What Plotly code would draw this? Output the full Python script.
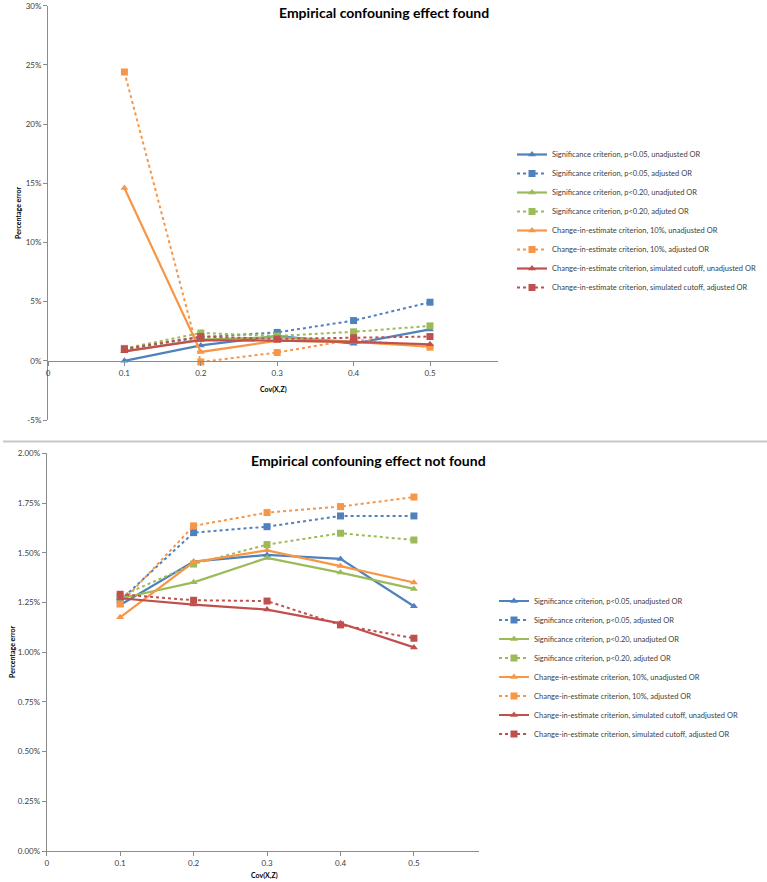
import plotly.graph_objects as go

# ---------------- data ----------------
cov_xz = [0.1, 0.2, 0.3, 0.4, 0.5]

series_names = [
    "Significance criterion, p<0.05, unadjusted OR",
    "Significance criterion, p<0.05, adjusted OR",
    "Significance criterion, p<0.20, unadjuted OR",
    "Significance criterion, p<0.20, adjuted OR",
    "Change-in-estimate criterion, 10%, unadjusted OR",
    "Change-in-estimate criterion, 10%, adjusted OR",
    "Change-in-estimate criterion, simulated cutoff, unadjusted OR",
    "Change-in-estimate criterion, simulated cutoff, adjusted OR",
]

# Top chart: empirical confounding effect found (percentage error, %)
found_sig05_unadj = [0.0, 1.3, 2.1, 1.45, 2.65]
found_sig05_adj = [0.95, 2.0, 2.4, 3.4, 4.95]
found_sig20_unadj = [0.8, 1.8, 2.0, 1.6, 1.3]
found_sig20_adj = [1.05, 2.35, 2.1, 2.45, 2.95]
found_cie10_unadj = [14.6, 0.75, 1.7, 1.6, 1.2]
found_cie10_adj = [24.4, -0.1, 0.7, 1.8, 1.15]
found_sim_unadj = [0.8, 1.75, 1.7, 1.6, 1.4]
found_sim_adj = [1.0, 2.05, 1.85, 1.95, 2.05]

# Bottom chart: empirical confounding effect not found (percentage error, %)
notfound_sig05_unadj = [1.237, 1.455, 1.489, 1.469, 1.231]
notfound_sig05_adj = [1.26, 1.601, 1.631, 1.685, 1.685]
notfound_sig20_unadj = [1.27, 1.351, 1.474, 1.400, 1.318]
notfound_sig20_adj = [1.28, 1.443, 1.541, 1.598, 1.564]
notfound_cie10_unadj = [1.175, 1.453, 1.512, 1.433, 1.350]
notfound_cie10_adj = [1.242, 1.635, 1.702, 1.732, 1.780]
notfound_sim_unadj = [1.271, 1.239, 1.214, 1.145, 1.024]
notfound_sim_adj = [1.291, 1.261, 1.257, 1.137, 1.070]

x_tickvals = [0, 0.1, 0.2, 0.3, 0.4, 0.5]
x_ticktext = ["0", "0.1", "0.2", "0.3", "0.4", "0.5"]
top_tickvals = [-5, 0, 5, 10, 15, 20, 25, 30]
top_ticktext = ["-5%", "0%", "5%", "10%", "15%", "20%", "25%", "30%"]
bot_tickvals = [0, 0.25, 0.5, 0.75, 1.0, 1.25, 1.5, 1.75, 2.0]
bot_ticktext = ["0.00%", "0.25%", "0.50%", "0.75%", "1.00%", "1.25%", "1.50%", "1.75%", "2.00%"]

top_title = "Empirical confouning effect found"
bot_title = "Empirical confouning effect not found"
y_title = "Percentage error"
x_title = "Cov(X,Z)"

# ---------------- styling ----------------
W, H = 767, 882
BLUE, GREEN, ORANGE, RED = "#4F81BD", "#9BBB59", "#F79646", "#C0504D"
colors = [BLUE, BLUE, GREEN, GREEN, ORANGE, ORANGE, RED, RED]
FONT = "Lato, Open Sans, sans-serif"
AXIS_COL = "#8C8C8C"
TXT_COL = "#404040"

top_data = [found_sig05_unadj, found_sig05_adj, found_sig20_unadj, found_sig20_adj,
            found_cie10_unadj, found_cie10_adj, found_sim_unadj, found_sim_adj]
bot_data = [notfound_sig05_unadj, notfound_sig05_adj, notfound_sig20_unadj, notfound_sig20_adj,
            notfound_cie10_unadj, notfound_cie10_adj, notfound_sim_unadj, notfound_sim_adj]

fig = go.Figure()

def add_series(data, xa, ya, legend):
    for i, (name, vals) in enumerate(zip(series_names, data)):
        adjusted = i % 2 == 1
        fig.add_trace(go.Scatter(
            x=cov_xz, y=vals, name=name, mode="lines+markers",
            xaxis=xa, yaxis=ya, legend=legend, cliponaxis=False,
            line=dict(color=colors[i], width=2.2 if not adjusted else 2,
                      dash="dot" if adjusted else "solid"),
            marker=dict(symbol="square" if adjusted else "triangle-up",
                        size=7, color=colors[i]),
        ))

add_series(top_data, "x", "y", "legend")
add_series(bot_data, "x2", "y2", "legend2")

def px_x(p):
    return p / W

def px_y(p):
    return 1 - p / H

tick_font = dict(family=FONT, size=8, color=TXT_COL)
axis_common = dict(showgrid=False, zeroline=False, showline=True, linecolor=AXIS_COL,
                   linewidth=1, ticks="outside", ticklen=4, tickcolor=AXIS_COL,
                   tickfont=tick_font, automargin=False)

fig.update_layout(
    width=W, height=H, margin=dict(l=0, r=0, t=0, b=0, autoexpand=False),
    paper_bgcolor="white", plot_bgcolor="white",
    font=dict(family=FONT, color=TXT_COL),
    xaxis=dict(domain=[px_x(48), px_x(498)], range=[0, 0.589], anchor="free",
               position=px_y(361), tickvals=x_tickvals, ticktext=x_ticktext,
               **axis_common),
    yaxis=dict(domain=[px_y(420), px_y(5.7)], range=[-5, 30], anchor="x",
               tickvals=top_tickvals, ticktext=top_ticktext, **axis_common),
    xaxis2=dict(domain=[px_x(46.7), px_x(479.3)], range=[0, 0.589], anchor="y2",
                tickvals=x_tickvals, ticktext=x_ticktext, **axis_common),
    yaxis2=dict(domain=[px_y(851), px_y(453.3)], range=[0, 2], anchor="x2",
                tickvals=bot_tickvals, ticktext=bot_ticktext, **axis_common),
    legend=dict(x=px_x(512), y=px_y(221), xanchor="left", yanchor="middle",
                font=dict(family=FONT, size=7.5, color=TXT_COL),
                bgcolor="rgba(0,0,0,0)", itemwidth=30, tracegroupgap=0),
    legend2=dict(x=px_x(494), y=px_y(667.5), xanchor="left", yanchor="middle",
                 font=dict(family=FONT, size=7.5, color=TXT_COL),
                 bgcolor="rgba(0,0,0,0)", itemwidth=30, tracegroupgap=0),
    showlegend=True,
)

def label(text, x, y, size, angle=0):
    return dict(text=text, x=px_x(x), y=px_y(y), xref="paper", yref="paper",
                xanchor="center", yanchor="middle", showarrow=False,
                textangle=angle, font=dict(family=FONT, size=size, color="#000"))

annotations = [
    label(f"<b>{top_title}</b>", 384, 12, 14),
    label(f"<b>{bot_title}</b>", 368.5, 460, 14),
    label(f"<b>{y_title}</b>", 18, 213, 7, -90),
    label(f"<b>{y_title}</b>", 12, 652, 7, -90),
    label(f"<b>{x_title}</b>", 273, 389, 7),
    label(f"<b>{x_title}</b>", 264, 875, 7),
]
fig.update_layout(annotations=annotations)

fig.add_shape(type="line", xref="paper", yref="paper", x0=px_x(3), x1=1,
              y0=px_y(441.5), y1=px_y(441.5), line=dict(color="#C8C8C8", width=2))

# remove the browser's default 8px page margin so the figure fills the window
fig.write_html("out.html", config={"displayModeBar": False},
               post_script="document.body.style.margin='0';")
